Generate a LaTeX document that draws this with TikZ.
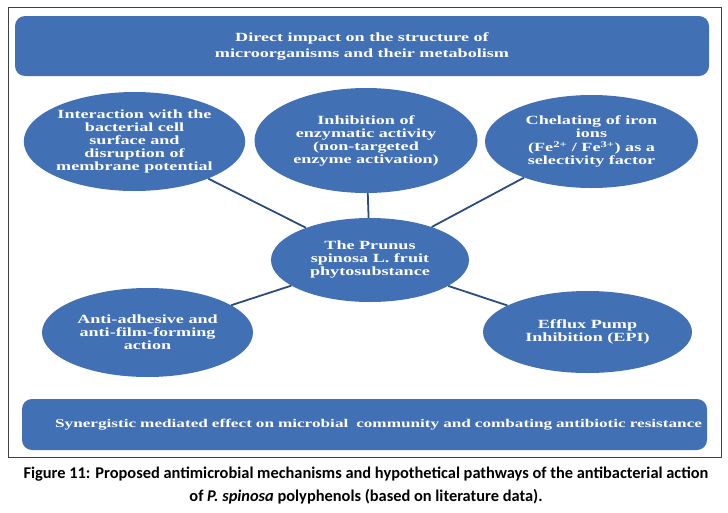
\documentclass[tikz,border=0pt]{standalone}
\usepackage{fontspec}
\usetikzlibrary{shapes.geometric}
\newfontfamily\diagfont{Liberation Serif}[FakeStretch=1.45]
\newfontfamily\capfont{Carlito}
\definecolor{mechblue}{RGB}{66,112,180}
\definecolor{linkblue}{RGB}{42,76,126}

\begin{document}
\begin{tikzpicture}[
  x=1pt, y=-1pt,
  blob/.style={ellipse, fill=mechblue, inner sep=0pt, align=center, text=white,
    font=\diagfont\bfseries\fontsize{12.5}{13}\selectfont},
  banner/.style={rectangle, rounded corners=10pt, fill=mechblue, text=white,
    font=\diagfont\bfseries\fontsize{12.5}{16}\selectfont},
  link/.style={draw=linkblue, line width=1.8pt},
  font=\small
]
\useasboundingbox (0,0) rectangle (728,512);
\draw[black!75, line width=0.8pt] (8,7) rectangle (721,457);

\node[banner, minimum width=694pt, minimum height=60pt, align=center] (direct) at (362,46)
  {Direct impact on the structure of\\microorganisms and their metabolism};
\node[banner, minimum width=685pt, minimum height=51pt, inner xsep=5pt,
  text width=675pt, align=right, font=\diagfont\bfseries\fontsize{11.85}{14}\selectfont] (synergy) at (364.5,424.5)
  {Synergistic mediated effect on microbial \ community and combating antibiotic resistance};

\node[blob, minimum width=220pt, minimum height=99pt] (surface) at (134.5,141.5)
  {Interaction with the\\bacterial cell\\surface and\\disruption of\\membrane potential};
\node[blob, minimum width=223pt, minimum height=105pt] (enzyme) at (366,140.5)
  {Inhibition of\\enzymatic activity\\(non-targeted\\enzyme activation)};
\node[blob, minimum width=213pt, minimum height=93pt] (iron) at (591.5,141.5)
  {Chelating of iron\\ions\\[1.5pt](Fe\textsuperscript{2+} / Fe\textsuperscript{3+}) as a\\selectivity factor};
\node[blob, minimum width=198pt, minimum height=84pt] (hub) at (370,260)
  {The Prunus\\spinosa L. fruit\\phytosubstance};
\node[blob, minimum width=211pt, minimum height=89pt] (adhesion) at (147.5,332.5)
  {Anti-adhesive and\\anti-film-forming\\action};
\node[blob, minimum width=209pt, minimum height=82pt] (efflux) at (587.5,332)
  {Efflux Pump\\Inhibition (EPI)};

\draw[link] (surface) -- (hub);
\draw[link] (enzyme) -- (hub);
\draw[link] (iron) -- (hub);
\draw[link] (hub) -- (adhesion);
\draw[link] (hub) -- (efflux);

\node[align=center, font=\capfont\bfseries\fontsize{16.4}{23}\selectfont] (caption) at (366,485.5)
  {Figure 11: Proposed antimicrobial mechanisms and hypothetical pathways of the antibacterial action\\
   of \textit{P. spinosa} polyphenols (based on literature data).};
\end{tikzpicture}
\end{document}
